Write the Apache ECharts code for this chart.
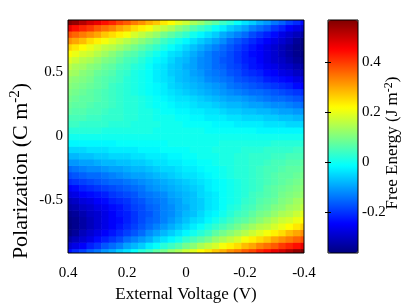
<!DOCTYPE html>
<html>
<head>
<meta charset="utf-8">
<script src="https://cdn.jsdelivr.net/npm/echarts@6/dist/echarts.min.js"></script>
<style>html,body{margin:0;padding:0;background:#fff}#c{width:415px;height:308px}</style>
</head>
<body>
<div id="c"></div>
<script>
// External voltage (V), left to right on the plot
const voltage = [0.4, 0.375, 0.35, 0.325, 0.3, 0.275, 0.25, 0.225, 0.2, 0.175, 0.15, 0.125, 0.1, 0.075, 0.05, 0.025, 0,
  -0.025, -0.05, -0.075, -0.1, -0.125, -0.15, -0.175, -0.2, -0.225, -0.25, -0.275, -0.3, -0.325, -0.35, -0.375, -0.4];
// Polarization (C m^-2), bottom to top
const polarization = [-0.9, -0.85, -0.8, -0.75, -0.7, -0.65, -0.6, -0.55, -0.5, -0.45, -0.4, -0.35, -0.3, -0.25, -0.2, -0.15, -0.1, -0.05, 0,
  0.05, 0.1, 0.15, 0.2, 0.25, 0.3, 0.35, 0.4, 0.45, 0.5, 0.55, 0.6, 0.65, 0.7, 0.75, 0.8, 0.85, 0.9];
// Free energy (J m^-2): one row per polarization value, one column per voltage value
const energy = [
  [-0.24,-0.21,-0.19,-0.16,-0.14,-0.11,-0.09,-0.06,-0.04,-0.01,0.02,0.04,0.07,0.09,0.12,0.14,0.17,0.19,0.22,0.24,0.27,0.29,0.32,0.34,0.37,0.39,0.42,0.44,0.47,0.49,0.52,0.55,0.57],
  [-0.29,-0.27,-0.25,-0.22,-0.20,-0.17,-0.15,-0.13,-0.10,-0.08,-0.06,-0.03,-0.01,0.02,0.04,0.06,0.09,0.11,0.14,0.16,0.18,0.21,0.23,0.25,0.28,0.30,0.33,0.35,0.37,0.40,0.42,0.44,0.47],
  [-0.33,-0.31,-0.29,-0.27,-0.24,-0.22,-0.20,-0.18,-0.15,-0.13,-0.11,-0.09,-0.06,-0.04,-0.02,0.00,0.03,0.05,0.07,0.09,0.12,0.14,0.16,0.18,0.21,0.23,0.25,0.27,0.30,0.32,0.34,0.36,0.38],
  [-0.36,-0.34,-0.31,-0.29,-0.27,-0.25,-0.23,-0.21,-0.19,-0.17,-0.15,-0.12,-0.10,-0.08,-0.06,-0.04,-0.02,0.00,0.02,0.04,0.07,0.09,0.11,0.13,0.15,0.17,0.19,0.21,0.23,0.25,0.28,0.30,0.32],
  [-0.37,-0.35,-0.33,-0.31,-0.29,-0.27,-0.25,-0.23,-0.21,-0.19,-0.17,-0.15,-0.13,-0.11,-0.09,-0.07,-0.05,-0.03,-0.01,0.01,0.03,0.05,0.07,0.09,0.11,0.13,0.15,0.16,0.18,0.20,0.22,0.24,0.26],
  [-0.36,-0.35,-0.33,-0.31,-0.29,-0.27,-0.25,-0.24,-0.22,-0.20,-0.18,-0.16,-0.15,-0.13,-0.11,-0.09,-0.07,-0.05,-0.04,-0.02,0.00,0.02,0.04,0.06,0.07,0.09,0.11,0.13,0.15,0.17,0.18,0.20,0.22],
  [-0.35,-0.34,-0.32,-0.30,-0.29,-0.27,-0.25,-0.23,-0.22,-0.20,-0.18,-0.17,-0.15,-0.13,-0.12,-0.10,-0.08,-0.07,-0.05,-0.03,-0.02,0.00,0.02,0.04,0.05,0.07,0.09,0.10,0.12,0.14,0.15,0.17,0.19],
  [-0.33,-0.32,-0.30,-0.29,-0.27,-0.26,-0.24,-0.23,-0.21,-0.19,-0.18,-0.16,-0.15,-0.13,-0.12,-0.10,-0.09,-0.07,-0.06,-0.04,-0.03,-0.01,0.01,0.02,0.04,0.05,0.07,0.08,0.10,0.11,0.13,0.14,0.16],
  [-0.31,-0.30,-0.28,-0.27,-0.25,-0.24,-0.22,-0.21,-0.20,-0.18,-0.17,-0.15,-0.14,-0.13,-0.11,-0.10,-0.08,-0.07,-0.06,-0.04,-0.03,-0.01,0.00,0.01,0.03,0.04,0.06,0.07,0.08,0.10,0.11,0.13,0.14],
  [-0.28,-0.27,-0.25,-0.24,-0.23,-0.22,-0.20,-0.19,-0.18,-0.17,-0.15,-0.14,-0.13,-0.12,-0.10,-0.09,-0.08,-0.07,-0.05,-0.04,-0.03,-0.01,0.00,0.01,0.02,0.04,0.05,0.06,0.07,0.09,0.10,0.11,0.12],
  [-0.25,-0.24,-0.22,-0.21,-0.20,-0.19,-0.18,-0.17,-0.16,-0.15,-0.14,-0.12,-0.11,-0.10,-0.09,-0.08,-0.07,-0.06,-0.05,-0.03,-0.02,-0.01,0.00,0.01,0.02,0.03,0.04,0.06,0.07,0.08,0.09,0.10,0.11],
  [-0.21,-0.20,-0.19,-0.18,-0.17,-0.16,-0.15,-0.15,-0.14,-0.13,-0.12,-0.11,-0.10,-0.09,-0.08,-0.07,-0.06,-0.05,-0.04,-0.03,-0.02,-0.01,0.00,0.01,0.02,0.03,0.04,0.05,0.06,0.07,0.08,0.09,0.10],
  [-0.18,-0.17,-0.16,-0.15,-0.15,-0.14,-0.13,-0.12,-0.11,-0.10,-0.10,-0.09,-0.08,-0.07,-0.06,-0.05,-0.04,-0.04,-0.03,-0.02,-0.01,0.00,0.01,0.02,0.02,0.03,0.04,0.05,0.06,0.07,0.07,0.08,0.09],
  [-0.15,-0.14,-0.13,-0.12,-0.12,-0.11,-0.10,-0.10,-0.09,-0.08,-0.08,-0.07,-0.06,-0.05,-0.05,-0.04,-0.03,-0.03,-0.02,-0.01,-0.01,0.00,0.01,0.02,0.02,0.03,0.04,0.05,0.05,0.06,0.07,0.07,0.08],
  [-0.11,-0.11,-0.10,-0.10,-0.09,-0.08,-0.08,-0.07,-0.07,-0.06,-0.06,-0.05,-0.04,-0.04,-0.03,-0.03,-0.02,-0.02,-0.01,-0.01,0.00,0.01,0.01,0.02,0.02,0.03,0.03,0.04,0.05,0.05,0.06,0.06,0.07],
  [-0.08,-0.08,-0.07,-0.07,-0.06,-0.06,-0.05,-0.05,-0.05,-0.04,-0.04,-0.03,-0.03,-0.03,-0.02,-0.02,-0.01,-0.01,0.00,0.00,0.00,0.01,0.01,0.02,0.02,0.03,0.03,0.03,0.04,0.04,0.05,0.05,0.05],
  [-0.05,-0.05,-0.05,-0.04,-0.04,-0.04,-0.03,-0.03,-0.03,-0.03,-0.02,-0.02,-0.02,-0.01,-0.01,-0.01,-0.01,0.00,0.00,0.00,0.01,0.01,0.01,0.01,0.02,0.02,0.02,0.03,0.03,0.03,0.03,0.04,0.04],
  [-0.02,-0.02,-0.02,-0.02,-0.02,-0.02,-0.02,-0.01,-0.01,-0.01,-0.01,-0.01,-0.01,-0.01,0.00,0.00,0.00,0.00,0.00,0.00,0.00,0.01,0.01,0.01,0.01,0.01,0.01,0.01,0.02,0.02,0.02,0.02,0.02],
  [0,0,0,0,0,0,0,0,0,0,0,0,0,0,0,0,0,0,0,0,0,0,0,0,0,0,0,0,0,0,0,0,0],
  [0.02,0.02,0.02,0.02,0.02,0.01,0.01,0.01,0.01,0.01,0.01,0.01,0.00,0.00,0.00,0.00,0.00,0.00,0.00,-0.01,-0.01,-0.01,-0.01,-0.01,-0.01,-0.01,-0.02,-0.02,-0.02,-0.02,-0.02,-0.02,-0.02],
  [0.04,0.04,0.03,0.03,0.03,0.03,0.02,0.02,0.02,0.01,0.01,0.01,0.01,0.00,0.00,0.00,-0.01,-0.01,-0.01,-0.01,-0.02,-0.02,-0.02,-0.03,-0.03,-0.03,-0.03,-0.04,-0.04,-0.04,-0.05,-0.05,-0.05],
  [0.05,0.05,0.05,0.04,0.04,0.03,0.03,0.03,0.02,0.02,0.01,0.01,0.00,0.00,0.00,-0.01,-0.01,-0.02,-0.02,-0.03,-0.03,-0.03,-0.04,-0.04,-0.05,-0.05,-0.05,-0.06,-0.06,-0.07,-0.07,-0.08,-0.08],
  [0.07,0.06,0.06,0.05,0.05,0.04,0.03,0.03,0.02,0.02,0.01,0.01,0.00,-0.01,-0.01,-0.02,-0.02,-0.03,-0.03,-0.04,-0.04,-0.05,-0.06,-0.06,-0.07,-0.07,-0.08,-0.08,-0.09,-0.10,-0.10,-0.11,-0.11],
  [0.08,0.07,0.07,0.06,0.05,0.05,0.04,0.03,0.02,0.02,0.01,0.00,-0.01,-0.01,-0.02,-0.03,-0.03,-0.04,-0.05,-0.05,-0.06,-0.07,-0.08,-0.08,-0.09,-0.10,-0.10,-0.11,-0.12,-0.12,-0.13,-0.14,-0.15],
  [0.09,0.08,0.07,0.07,0.06,0.05,0.04,0.03,0.02,0.02,0.01,0.00,-0.01,-0.02,-0.03,-0.04,-0.04,-0.05,-0.06,-0.07,-0.08,-0.09,-0.10,-0.10,-0.11,-0.12,-0.13,-0.14,-0.15,-0.15,-0.16,-0.17,-0.18],
  [0.10,0.09,0.08,0.07,0.06,0.05,0.04,0.03,0.02,0.01,0.00,-0.01,-0.02,-0.03,-0.04,-0.05,-0.06,-0.07,-0.08,-0.09,-0.10,-0.11,-0.12,-0.13,-0.14,-0.15,-0.15,-0.16,-0.17,-0.18,-0.19,-0.20,-0.21],
  [0.11,0.10,0.09,0.08,0.07,0.06,0.04,0.03,0.02,0.01,0.00,-0.01,-0.02,-0.03,-0.05,-0.06,-0.07,-0.08,-0.09,-0.10,-0.11,-0.12,-0.14,-0.15,-0.16,-0.17,-0.18,-0.19,-0.20,-0.21,-0.22,-0.24,-0.25],
  [0.12,0.11,0.10,0.09,0.07,0.06,0.05,0.04,0.02,0.01,0.00,-0.01,-0.03,-0.04,-0.05,-0.07,-0.08,-0.09,-0.10,-0.12,-0.13,-0.14,-0.15,-0.17,-0.18,-0.19,-0.20,-0.22,-0.23,-0.24,-0.25,-0.27,-0.28],
  [0.14,0.13,0.11,0.10,0.08,0.07,0.06,0.04,0.03,0.01,0.00,-0.01,-0.03,-0.04,-0.06,-0.07,-0.08,-0.10,-0.11,-0.13,-0.14,-0.15,-0.17,-0.18,-0.20,-0.21,-0.22,-0.24,-0.25,-0.27,-0.28,-0.30,-0.31],
  [0.16,0.14,0.13,0.11,0.10,0.08,0.07,0.05,0.04,0.02,0.01,-0.01,-0.03,-0.04,-0.06,-0.07,-0.09,-0.10,-0.12,-0.13,-0.15,-0.16,-0.18,-0.19,-0.21,-0.23,-0.24,-0.26,-0.27,-0.29,-0.30,-0.32,-0.33],
  [0.19,0.17,0.15,0.14,0.12,0.10,0.09,0.07,0.05,0.04,0.02,0.00,-0.02,-0.03,-0.05,-0.07,-0.08,-0.10,-0.12,-0.13,-0.15,-0.17,-0.18,-0.20,-0.22,-0.23,-0.25,-0.27,-0.29,-0.30,-0.32,-0.34,-0.35],
  [0.22,0.20,0.18,0.17,0.15,0.13,0.11,0.09,0.07,0.06,0.04,0.02,0.00,-0.02,-0.04,-0.05,-0.07,-0.09,-0.11,-0.13,-0.15,-0.16,-0.18,-0.20,-0.22,-0.24,-0.25,-0.27,-0.29,-0.31,-0.33,-0.35,-0.36],
  [0.26,0.24,0.22,0.20,0.18,0.16,0.15,0.13,0.11,0.09,0.07,0.05,0.03,0.01,-0.01,-0.03,-0.05,-0.07,-0.09,-0.11,-0.13,-0.15,-0.17,-0.19,-0.21,-0.23,-0.25,-0.27,-0.29,-0.31,-0.33,-0.35,-0.37],
  [0.32,0.30,0.28,0.25,0.23,0.21,0.19,0.17,0.15,0.13,0.11,0.09,0.07,0.04,0.02,0.00,-0.02,-0.04,-0.06,-0.08,-0.10,-0.12,-0.15,-0.17,-0.19,-0.21,-0.23,-0.25,-0.27,-0.29,-0.31,-0.34,-0.36],
  [0.38,0.36,0.34,0.32,0.30,0.27,0.25,0.23,0.21,0.18,0.16,0.14,0.12,0.09,0.07,0.05,0.03,0.00,-0.02,-0.04,-0.06,-0.09,-0.11,-0.13,-0.15,-0.18,-0.20,-0.22,-0.24,-0.27,-0.29,-0.31,-0.33],
  [0.47,0.44,0.42,0.40,0.37,0.35,0.33,0.30,0.28,0.25,0.23,0.21,0.18,0.16,0.14,0.11,0.09,0.06,0.04,0.02,-0.01,-0.03,-0.06,-0.08,-0.10,-0.13,-0.15,-0.17,-0.20,-0.22,-0.25,-0.27,-0.29],
  [0.57,0.55,0.52,0.49,0.47,0.44,0.42,0.39,0.37,0.34,0.32,0.29,0.27,0.24,0.22,0.19,0.17,0.14,0.12,0.09,0.07,0.04,0.02,-0.01,-0.04,-0.06,-0.09,-0.11,-0.14,-0.16,-0.19,-0.21,-0.24]
];
const xTicks = [0.4, 0.2, 0, -0.2, -0.4];
const yTicks = [-0.5, 0, 0.5];
const cbTicks = [-0.2, 0, 0.2, 0.4];
const cbMin = -0.364, cbMax = 0.568;

const jet = ['#000080', '#0000ff', '#0080ff', '#00ffff', '#80ff80', '#ffff00', '#ff8000', '#ff0000', '#800000'];
const FONT = 'Liberation Serif';

const seriesData = [];
for (let i = 0; i < polarization.length; i++) {
  for (let j = 0; j < voltage.length; j++) {
    seriesData.push([voltage[j], polarization[i], energy[i][j]]);
  }
}
const halfV = Math.abs(voltage[0] - voltage[1]) / 2;
const halfP = Math.abs(polarization[1] - polarization[0]) / 2;

const chart = echarts.init(document.getElementById('c'), null, {renderer: 'canvas'});
const labelStyle = {fontFamily: FONT, fontSize: 15, color: '#000'};
const supRich = function (size) {
  return {
    n: {fontFamily: FONT, fontSize: size, fill: '#000', lineHeight: size + 4},
    s: {fontFamily: FONT, fontSize: Math.round(size * 0.7), fill: '#000', verticalAlign: 'top', lineHeight: size + 4}
  };
};
chart.setOption({
  animation: false,
  backgroundColor: '#fff',
  grid: [
    {left: 68, top: 20, width: 236, height: 233, show: true, borderColor: '#000', borderWidth: 1, backgroundColor: 'transparent', z: 10},
    {left: 328, top: 20, width: 30, height: 233, show: true, borderColor: '#000', borderWidth: 1, backgroundColor: 'transparent', z: 10}
  ],
  xAxis: [
    {gridIndex: 0, type: 'value', min: -0.4, max: 0.4, interval: 0.2, inverse: true,
      axisLine: {show: false}, axisTick: {show: false}, splitLine: {show: false},
      axisLabel: Object.assign({margin: 13, customValues: xTicks}, labelStyle)},
    {gridIndex: 1, type: 'value', min: 0, max: 1, show: false}
  ],
  yAxis: [
    {gridIndex: 0, type: 'value', min: -0.91, max: 0.91,
      axisLine: {show: false}, axisTick: {show: false}, splitLine: {show: false},
      axisLabel: Object.assign({margin: 5, padding: [4, 0, 0, 0], customValues: yTicks}, labelStyle)},
    {gridIndex: 1, type: 'value', position: 'right', min: cbMin, max: cbMax, z: 10,
      axisLine: {show: false}, splitLine: {show: false},
      axisTick: {show: true, inside: true, length: 3, customValues: cbTicks, lineStyle: {color: '#000'}},
      axisLabel: Object.assign({margin: 4, padding: [2, 0, 0, 0], customValues: cbTicks}, labelStyle)},
    {gridIndex: 1, type: 'value', position: 'left', min: cbMin, max: cbMax, z: 10,
      axisLine: {show: false}, splitLine: {show: false},
      axisTick: {show: true, inside: true, length: 3, customValues: cbTicks, lineStyle: {color: '#000'}},
      axisLabel: {show: false}}
  ],
  visualMap: {
    type: 'continuous', min: cbMin, max: cbMax, dimension: 2, seriesIndex: 0,
    calculable: false, hoverLink: false, orient: 'vertical', padding: 0,
    left: 328, top: 20, itemWidth: 30, itemHeight: 233, text: null,
    inRange: {color: jet}
  },
  series: [{
    type: 'custom', xAxisIndex: 0, yAxisIndex: 0, clip: true, silent: true,
    dimensions: ['V', 'P', 'F'], encode: {x: 0, y: 1},
    data: seriesData,
    renderItem: function (params, api) {
      const v = api.value(0), p = api.value(1);
      const a = api.coord([v + halfV, p + halfP]);
      const b = api.coord([v - halfV, p - halfP]);
      return {
        type: 'rect',
        shape: {x: Math.min(a[0], b[0]), y: Math.min(a[1], b[1]),
          width: Math.abs(b[0] - a[0]) + 0.6, height: Math.abs(b[1] - a[1]) + 0.6},
        style: {fill: api.visual('color')}
      };
    }
  }],
  graphic: [
    {type: 'text', x: 186, y: 295, style: {text: 'External Voltage (V)', fontFamily: FONT, fontSize: 17, fill: '#000', align: 'center', verticalAlign: 'middle'}},
    {type: 'text', x: 21, y: 171, rotation: Math.PI / 2,
      style: {text: '{n|Polarization (C m}{s|-2}{n|)}', rich: supRich(22), align: 'center', verticalAlign: 'middle'}},
    {type: 'text', x: 393, y: 143, rotation: Math.PI / 2,
      style: {text: '{n|Free Energy (J m}{s|-2}{n|)}', rich: supRich(17), align: 'center', verticalAlign: 'middle'}}
  ]
});
</script>
</body>
</html>
